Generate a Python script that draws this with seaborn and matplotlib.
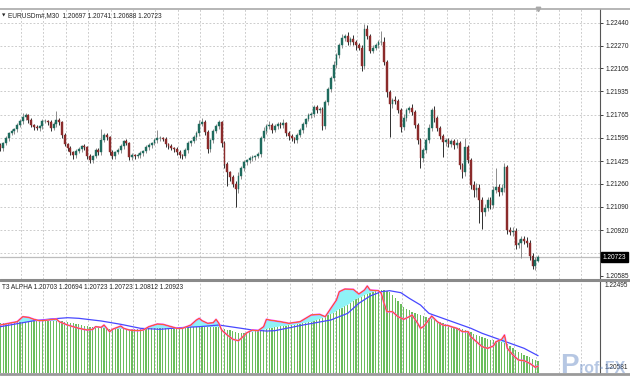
import numpy as np
import matplotlib
matplotlib.use("Agg")
import matplotlib.pyplot as plt
import matplotlib.transforms as mtransforms
from matplotlib.lines import Line2D
import seaborn as sns

# ---------------- data ----------------
symbol_title = "EURUSDm#,M30  1.20697 1.20741 1.20688 1.20723"
ind_title = "T3 ALPHA 1.20703 1.20694 1.20723 1.20723 1.20812 1.20923"

first_open = 1.21541
last_open = 1.20697
closes = [
    1.21519, 1.21555, 1.21592, 1.21629, 1.21643, 1.21658, 1.21687, 1.21716, 1.21746, 1.21760,
    1.21724, 1.21687, 1.21672, 1.21665, 1.21680, 1.21716, 1.21716, 1.21709, 1.21665, 1.21694,
    1.21724, 1.21709, 1.21614, 1.21548, 1.21519, 1.21490, 1.21468, 1.21497, 1.21512, 1.21534,
    1.21526, 1.21460, 1.21431, 1.21460, 1.21504, 1.21490, 1.21577, 1.21614, 1.21599, 1.21490,
    1.21460, 1.21490, 1.21504, 1.21534, 1.21570, 1.21555, 1.21453, 1.21468, 1.21460, 1.21468,
    1.21482, 1.21497, 1.21526, 1.21541, 1.21555, 1.21577, 1.21592, 1.21592, 1.21585, 1.21548,
    1.21534, 1.21519, 1.21512, 1.21490, 1.21468, 1.21460, 1.21504, 1.21555, 1.21570, 1.21599,
    1.21629, 1.21694, 1.21709, 1.21636, 1.21512, 1.21577, 1.21643, 1.21680, 1.21709, 1.21555,
    1.21402, 1.21343, 1.21307, 1.21256, 1.21219, 1.21314, 1.21373, 1.21417, 1.21431, 1.21446,
    1.21453, 1.21460, 1.21475, 1.21592, 1.21643, 1.21680, 1.21687, 1.21651, 1.21680, 1.21694,
    1.21687, 1.21702, 1.21629, 1.21607, 1.21592, 1.21577, 1.21614, 1.21651, 1.21694, 1.21731,
    1.21760, 1.21767, 1.21819, 1.21797, 1.21804, 1.21680, 1.21855, 1.21950, 1.22031, 1.22126,
    1.22199, 1.22272, 1.22323, 1.22338, 1.22294, 1.22316, 1.22294, 1.22272, 1.22257, 1.22118,
    1.22389, 1.22338, 1.22235, 1.22257, 1.22272, 1.22294, 1.22301, 1.22148, 1.21928, 1.21841,
    1.21870, 1.21862, 1.21797, 1.21672, 1.21738, 1.21797, 1.21811, 1.21782, 1.21687, 1.21577,
    1.21446, 1.21504, 1.21577, 1.21665, 1.21797, 1.21738, 1.21665, 1.21607, 1.21563, 1.21577,
    1.21548, 1.21570, 1.21541, 1.21555, 1.21395, 1.21343, 1.21526, 1.21431, 1.21248, 1.21212,
    1.21227, 1.21139, 1.21051, 1.21080, 1.21139, 1.21102, 1.21212, 1.21234, 1.21197, 1.21227,
    1.21380, 1.20920, 1.20905, 1.20912, 1.20810, 1.20824, 1.20854, 1.20839, 1.20824, 1.20729,
    1.20656, 1.20700, 1.20723,
]
# wick lengths above / below the body, in pips (0.0001)
wick_up = [
    2, 1, 2, 1, 2, 1, 2, 2, 3, 2,  1, 2, 1, 2, 1, 2, 2, 1, 2, 2,
    7, 2, 1, 2, 1, 2, 1, 2, 2, 1,  2, 1, 2, 1, 2, 2, 8, 2, 2, 1,
    2, 1, 2, 2, 1, 2, 1, 2, 1, 2,  2, 1, 2, 2, 1, 2, 6, 2, 1, 2,
    1, 2, 1, 2, 2, 1, 2, 2, 1, 2,  2, 3, 3, 2, 2, 1, 2, 2, 2, 1,
    2, 2, 1, 2, 2, 3, 2, 2, 1, 2,  2, 1, 2, 2, 3, 2, 3, 2, 2, 2,
    2, 3, 1, 2, 2, 1, 2, 2, 2, 1,  2, 2, 2, 2, 2, 2, 2, 2, 2, 3,
    2, 2, 3, 2, 3, 2, 3, 2, 2, 2,  4, 3, 2, 2, 2, 2, 8, 3, 2, 2,
    2, 3, 2, 2, 3, 2, 2, 3, 2, 2,  2, 2, 2, 3, 2, 3, 2, 2, 2, 2,
    2, 2, 2, 3, 2, 2, 7, 2, 2, 3,  4, 3, 2, 3, 2, 2, 3, 14, 2, 3,
    3, 2, 2, 3, 2, 3, 2, 2, 3, 2,  2, 2, 1.8,
]
wick_dn = [
    2, 2, 1, 2, 1, 2, 2, 1, 2, 2,  2, 1, 2, 1, 2, 2, 1, 2, 2, 1,
    2, 2, 2, 1, 2, 2, 3, 2, 1, 2,  2, 2, 2, 2, 1, 2, 2, 1, 2, 2,
    2, 2, 1, 2, 2, 1, 2, 2, 2, 1,  2, 2, 1, 2, 2, 1, 2, 2, 1, 2,
    2, 1, 2, 2, 2, 2, 1, 2, 2, 1,  2, 2, 1, 2, 3, 2, 2, 1, 2, 3,
    3, 10, 3, 2, 13, 3, 2, 2, 2, 2,  2, 2, 1, 2, 2, 2, 2, 2, 1, 2,
    2, 2, 2, 3, 2, 2, 2, 1, 2, 2,  1, 2, 2, 2, 2, 3, 2, 2, 2, 2,
    2, 2, 2, 2, 2, 2, 2, 3, 2, 3,  2, 2, 2, 2, 2, 2, 2, 2, 3, 24,
    3, 2, 2, 3, 2, 2, 2, 2, 2, 3,  7, 3, 2, 2, 2, 3, 2, 2, 11, 3,
    2, 2, 3, 2, 3, 4, 3, 2, 3, 5,  5, 17, 12, 3, 2, 3, 2, 2, 3, 2,
    3, 3, 2, 3, 3, 2, 11, 2, 3, 3,  2, 3, 0.9,
]

hist_vals = [
    1.21611, 1.21611, 1.21611, 1.21611, 1.21611, 1.21611, 1.21632, 1.21632,
    1.21632, 1.21632, 1.21632, 1.21653, 1.21653,
    1.21653, 1.21653, 1.21653, 1.21653, 1.21653, 1.21653, 1.21653, 1.21653,
    1.21653, 1.21653, 1.21632, 1.21632,
    1.21611, 1.21611, 1.21590, 1.21590,
    1.21569, 1.21548, 1.21548, 1.21527,
    1.21527, 1.21506, 1.21506, 1.21506, 1.21506, 1.21485, 1.21485, 1.21485,
    1.21485, 1.21485, 1.21485, 1.21485, 1.21485, 1.21485,
    1.21485, 1.21485, 1.21485, 1.21485,
    1.21506, 1.21506, 1.21506, 1.21506, 1.21506, 1.21506, 1.21506,
    1.21506, 1.21506, 1.21506, 1.21506, 1.21506, 1.21506, 1.21506,
    1.21506, 1.21506, 1.21527, 1.21527, 1.21527, 1.21527, 1.21527,
    1.21527, 1.21527, 1.21527, 1.21527, 1.21527, 1.21527, 1.21527,
    1.21506, 1.21485, 1.21464, 1.21464,
    1.21443, 1.21422, 1.21401, 1.21401,
    1.21401, 1.21401, 1.21422, 1.21422,
    1.21443, 1.21443, 1.21464, 1.21464, 1.21485, 1.21506, 1.21506, 1.21527,
    1.21527, 1.21548, 1.21548, 1.21548, 1.21569, 1.21569, 1.21569, 1.21590,
    1.21590, 1.21611, 1.21611, 1.21632,
    1.21632, 1.21653, 1.21675, 1.21696,
    1.21717, 1.21759, 1.21780, 1.21801, 1.21822, 1.21864,
    1.21906, 1.21927, 1.21969, 1.21990, 1.22032, 1.22074,
    1.22116, 1.22137, 1.22158, 1.22200,
    1.22221, 1.22242, 1.22263, 1.22284,
    1.22305, 1.22305, 1.22305, 1.22284,
    1.22263, 1.22200, 1.22137,
    1.22074, 1.22011, 1.21948,
    1.21906, 1.21885, 1.21843,
    1.21822, 1.21801, 1.21780, 1.21759,
    1.21738, 1.21717, 1.21696, 1.21675, 1.21653,
    1.21632, 1.21611, 1.21590, 1.21569,
    1.21548, 1.21527, 1.21506, 1.21506, 1.21485,
    1.21464, 1.21443, 1.21422, 1.21380, 1.21359,
    1.21338, 1.21317, 1.21296, 1.21275, 1.21254,
    1.21254, 1.21233, 1.21233, 1.21212,
    1.21191, 1.21170, 1.21128, 1.21086,
    1.21044, 1.21002, 1.20981, 1.20939,
    1.20917, 1.20896, 1.20854, 1.20833, 1.20812,
]

fast_idx = [0, 3, 6, 8, 10, 12, 14, 17, 19, 20, 21, 24, 26, 28, 31, 33, 34, 36, 37, 39,
            40, 43, 44, 46, 49, 51, 53, 56, 58, 61, 63, 65, 68, 70, 71, 72, 74, 76, 77, 78,
            79, 81, 83, 85, 86, 88, 90, 92, 94, 95, 96, 100, 103, 107, 111, 114, 116, 118, 120, 121,
            123, 126, 128, 130, 131, 132, 135, 136, 137, 138, 140, 142, 144, 146, 147, 149, 150, 151, 152, 154,
            156, 158, 160, 161, 163, 165, 167, 168, 170, 172, 174, 176, 177, 179, 180, 181, 183, 185, 187, 189,
            191, 192]
fast_vals = [1.21569, 1.21605, 1.21639, 1.21744, 1.21731, 1.21689, 1.21660, 1.21675, 1.21689, 1.21696,
             1.21639, 1.21569, 1.21534, 1.21500, 1.21464, 1.21479, 1.21534, 1.21521, 1.21569, 1.21429,
             1.21479, 1.21548, 1.21500, 1.21464, 1.21450, 1.21464, 1.21534, 1.21590, 1.21584, 1.21534,
             1.21500, 1.21500, 1.21569, 1.21675, 1.21710, 1.21660, 1.21605, 1.21618, 1.21689, 1.21605,
             1.21464, 1.21359, 1.21269, 1.21239, 1.21290, 1.21407, 1.21464, 1.21450, 1.21534, 1.21689,
             1.21675, 1.21639, 1.21605, 1.21639, 1.21780, 1.21794, 1.21744, 1.21921, 1.22095, 1.22270,
             1.22326, 1.22320, 1.22221, 1.22305, 1.22390, 1.22305, 1.22291, 1.22236, 1.22026, 1.21849,
             1.21849, 1.21744, 1.21689, 1.21744, 1.21780, 1.21605, 1.21500, 1.21534, 1.21605, 1.21759,
             1.21639, 1.21569, 1.21555, 1.21534, 1.21500, 1.21429, 1.21429, 1.21323, 1.21218, 1.21113,
             1.21079, 1.21128, 1.21218, 1.21269, 1.21359, 1.21079, 1.20939, 1.20833, 1.20819, 1.20764,
             1.20680, 1.20703]

slow_idx = [0, 12, 18, 24, 28, 36, 43, 50, 57, 64, 71, 78, 86, 90, 95, 98, 108, 118, 124, 128,
            132, 136, 139, 143, 146, 150, 153, 158, 163, 168, 172, 177, 182, 187, 192]
slow_vals = [1.21534, 1.21660, 1.21696, 1.21723, 1.21710, 1.21654, 1.21584, 1.21500, 1.21479, 1.21513,
             1.21534, 1.21569, 1.21500, 1.21464, 1.21443, 1.21450, 1.21569, 1.21675, 1.21815, 1.22026,
             1.22179, 1.22270, 1.22291, 1.22249, 1.22131, 1.21990, 1.21815, 1.21710, 1.21605, 1.21500,
             1.21395, 1.21290, 1.21185, 1.21079, 1.20923]

price_ticks = [1.22440, 1.22270, 1.22105, 1.21935, 1.21765, 1.21595, 1.21425,
               1.21260, 1.21090, 1.20920, 1.20585]
extra_grid = [1.20750]
current_price = 1.20723
ind_top_label, ind_bottom_label = 1.22495, 1.20581

# ---------------- style ----------------
sns.set_theme(style="white")
plt.rcParams["font.family"] = ["Liberation Sans", "DejaVu Sans"]

W, H = 630, 380
fig = plt.figure(figsize=(W / 100, H / 100), dpi=100)
fig.patch.set_facecolor("white")


def frac_rect(x0, y0, x1, y1):
    return [x0 / W, 1 - y1 / H, (x1 - x0) / W, (y1 - y0) / H]


ax1 = fig.add_axes(frac_rect(0, 9, 600, 279))
ax2 = fig.add_axes(frac_rect(0, 281, 600, 373))

n = len(closes)
xi = np.arange(n)
c = np.array(closes)
o = np.r_[first_open, c[:-1]]
o[-1] = last_open
hi = np.maximum(o, c) + np.array(wick_up) * 1e-4
lo = np.minimum(o, c) - np.array(wick_dn) * 1e-4
bull = c >= o

XL = (-0.14, 214.1)
grid_x = np.arange(7.36, XL[1], 8.0)
grid_kw = dict(color="#c4c4c4", lw=0.6, ls=(0, (2.2, 2.2)), zorder=0)

# ---------------- main price panel ----------------
ax1.set_xlim(*XL)
ax1.set_ylim(1.20562, 1.22539)
for gx in grid_x:
    ax1.axvline(gx, **grid_kw)
for gy in price_ticks[:-1] + extra_grid:
    ax1.axhline(gy, **grid_kw)
ax1.axhline(current_price, color="#bdbdbd", lw=0.9, zorder=1)

wick_col = np.where(bull, "#8c8c8c", "#2e2e2e")
ax1.vlines(xi, lo, hi, colors=wick_col, lw=0.7, zorder=2)
body_col = np.where(bull, "#1f6b5e", "#8b2b2b")
body_h = np.maximum(np.abs(c - o), 0.000025)
ax1.bar(xi, body_h, bottom=np.minimum(o, c), width=0.66, color=body_col,
        edgecolor=body_col, linewidth=0.3, zorder=3)

ax1.yaxis.tick_right()
ax1.set_yticks(price_ticks)
ax1.set_yticklabels([f"{p:.5f}" for p in price_ticks])
ax1.tick_params(axis="y", labelsize=4.7, length=2.5, width=0.6, pad=1.5,
                colors="#222222", right=True)
ax1.set_xticks([])
for s in ["top", "left", "bottom"]:
    ax1.spines[s].set_visible(False)
ax1.spines["right"].set_color("#555555")
ax1.spines["right"].set_linewidth(0.8)

trans1 = mtransforms.blended_transform_factory(ax1.transAxes, ax1.transData)
ax1.text(1.004, current_price, f"{current_price:.5f}", transform=trans1,
         fontsize=4.7, color="white", va="center", ha="left", zorder=10,
         bbox=dict(boxstyle="square,pad=0.25", fc="black", ec="black"))
ax1.text(0.004, 0.975, "\u25BC", transform=ax1.transAxes, fontsize=3.2,
         color="#222222", va="center", ha="left", family=["DejaVu Sans"])
ax1.text(0.013, 0.975, symbol_title, transform=ax1.transAxes, fontsize=4.7,
         color="#222222", va="center", ha="left")
ax1.plot([192], [1.22539], marker="v", ms=3.2, color="#a8a8a8",
         clip_on=False, zorder=11, transform=ax1.transData)

# ---------------- indicator panel ----------------
ax2.set_xlim(*XL)
ybot = 1.2056
ax2.set_ylim(ybot, 1.22495)
for gx in grid_x:
    ax2.axvline(gx, **grid_kw)

hist = np.array(hist_vals)
ax2.bar(xi, hist - ybot, bottom=ybot, width=0.45, color="#6bbd5c",
        linewidth=0, zorder=2)

xs = np.linspace(0, n - 1, 1500)
f_on = np.interp(xs, fast_idx, fast_vals)
h_on = np.interp(xs, xi, hist)
ax2.fill_between(xs, h_on, f_on, where=f_on > h_on, interpolate=True,
                 color="#8ff3f6", linewidth=0, zorder=2.5)

sns.lineplot(x=slow_idx, y=slow_vals, ax=ax2, color="#4848ff", lw=0.9,
             zorder=4, estimator=None)
sns.lineplot(x=fast_idx, y=fast_vals, ax=ax2, color="#ff40ff", lw=1.3,
             zorder=5, estimator=None)
sns.lineplot(x=fast_idx, y=fast_vals, ax=ax2, color="#f0d000", lw=0.5,
             zorder=6, estimator=None)
sns.lineplot(x=fast_idx, y=fast_vals, ax=ax2, color="#ff1f1f", lw=0.35,
             zorder=7, estimator=None)

ax2.set_xticks([])
ax2.set_yticks([])
ax2.set_xlabel("")
ax2.set_ylabel("")
for s in ["top", "left", "bottom"]:
    ax2.spines[s].set_visible(False)
ax2.spines["right"].set_color("#555555")
ax2.spines["right"].set_linewidth(0.8)
ax2.text(0.004, 0.93, ind_title, transform=ax2.transAxes, fontsize=4.7,
         color="#222222", va="center", ha="left")
ax2.text(1.008, 0.955, f"{ind_top_label:.5f}", transform=ax2.transAxes,
         fontsize=4.7, color="#222222", va="center", ha="left", zorder=30)
ax2.text(1.008, 0.06, f"{ind_bottom_label:.5f}", transform=ax2.transAxes,
         fontsize=4.7, color="#222222", va="center", ha="left", zorder=30)

# ---------------- frame lines ----------------
def hline(y, lw, color):
    fig.add_artist(Line2D([0, 1], [1 - y / H, 1 - y / H], lw=lw, color=color))

hline(8.5, 1.2, "#a9a9a9")
hline(279.8, 2.2, "#8a8a8a")
hline(373.8, 2.0, "#9a9a9a")

# watermark logo
fig.text(560 / W, 1 - 373 / H, "P", fontsize=20, fontweight="bold",
         color="#6f91c9", alpha=0.5, va="baseline", ha="left", zorder=5)
fig.text(579 / W, 1 - 373 / H, "rof\u00B7FX", fontsize=11.5, fontweight="bold",
         color="#6f91c9", alpha=0.5, va="baseline", ha="left", zorder=5)

fig.savefig("out.png", dpi=100)
